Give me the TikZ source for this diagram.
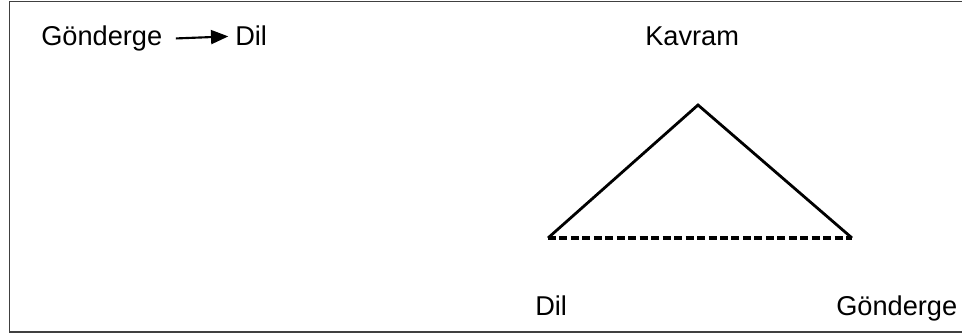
\documentclass[tikz,border=0pt]{standalone}
\usepackage{fontspec}
\setmainfont{Liberation Sans}
\usetikzlibrary{arrows.meta}

\begin{document}
\begin{tikzpicture}[x=0.75pt,y=-0.75pt,>={Triangle[length=13pt,width=10.5pt]},
  lbl/.style={inner sep=0pt,anchor=base west,font=\fontsize{20.4}{24}\selectfont},
  side/.style={line width=2.1pt,line join=miter},
  base/.style={line width=2.4pt,dash pattern=on 6pt off 2.6pt}]
\useasboundingbox (0,0) rectangle (962,334);
\draw[black!75,line width=0.9pt] (965,1.5) -- (9.5,1.5) -- (9.5,332) -- (965,332);
% left: reference to language
\node[lbl] (ref) at (41,46) {Gönderge};
\node[lbl] (lang) at (235,46) {Dil};
\draw[->,line width=1.6pt,shorten <=10pt,shorten >=5pt] (ref.east) -- (lang.west);
% right: triangle
\node[lbl] (concept) at (645,46) {Kavram};
\node[lbl] (word) at (535,315) {Dil};
\node[lbl] (thing) at (836,315) {Gönderge};
\coordinate (top) at (698,105);
\coordinate (bl) at (548,238);
\coordinate (br) at (852,238);
\draw[side] (bl) -- (top) -- (br);
\draw[base] (bl) -- (br);
\end{tikzpicture}
\end{document}
